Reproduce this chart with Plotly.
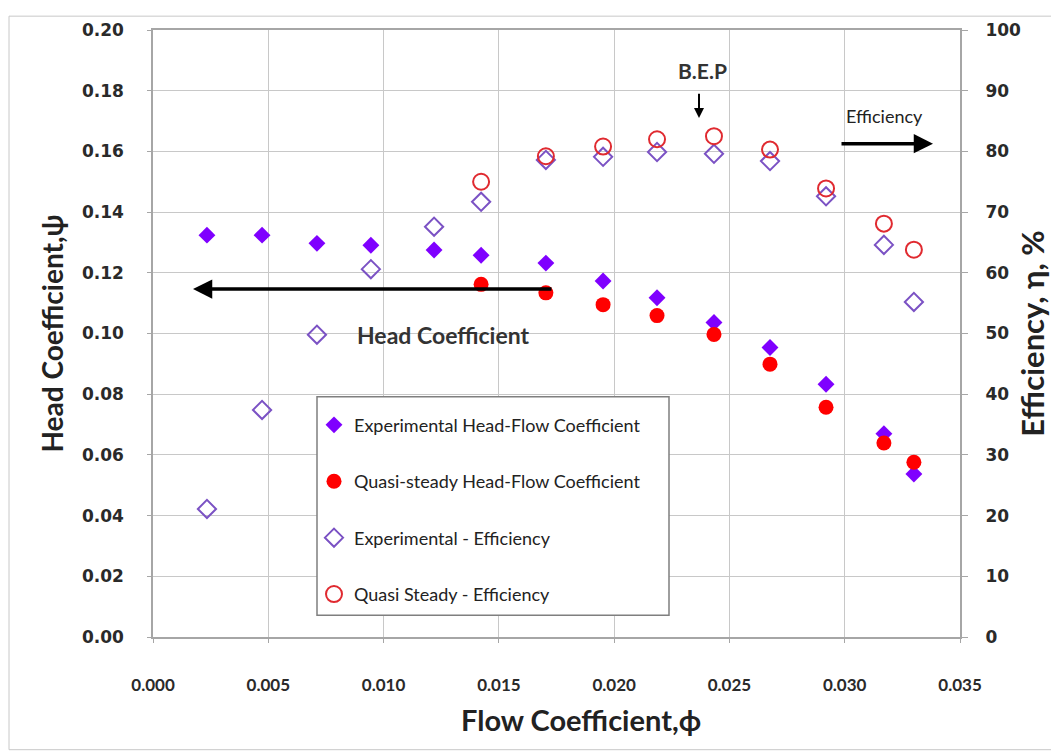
import plotly.graph_objects as go

# ---- data ----
phi = [0.00234, 0.00473, 0.00711, 0.00945, 0.01219, 0.01423, 0.01704,
       0.01952, 0.02186, 0.02433, 0.02676, 0.02919, 0.0317, 0.0330]
psi_exp = [0.1324, 0.1324, 0.1297, 0.1291, 0.1275, 0.1258, 0.1232,
           0.1173, 0.1118, 0.1036, 0.0954, 0.0833, 0.0670, 0.0537]
eff_exp = [21.1, 37.4, 49.8, 60.6, 67.6, 71.7, 78.6,
           79.1, 79.9, 79.6, 78.4, 72.6, 64.6, 55.2]

phi_qs = [0.01423, 0.01704, 0.01952, 0.02186, 0.02433, 0.02676, 0.02919, 0.0317, 0.0330]
psi_qs = [0.1162, 0.1134, 0.1095, 0.1059, 0.0997, 0.0899, 0.0757, 0.0639, 0.0576]
eff_qs = [75.0, 79.2, 80.8, 82.0, 82.5, 80.3, 73.9, 68.1, 63.8]

x_ticks = [0.000, 0.005, 0.010, 0.015, 0.020, 0.025, 0.030, 0.035]
names = ["Experimental Head-Flow Coefficient",
         "Quasi-steady Head-Flow Coefficient",
         "Experimental - Efficiency",
         "Quasi Steady - Efficiency"]

# screen geometry of the plot area (page has an 8px body margin)
OFF = 8
W, H = 1059 - OFF, 755 - OFF
L, R, T, B = 153, 960, 23, 637

fig = go.Figure()
fig.add_trace(go.Scatter(x=phi, y=psi_exp, mode="markers", name=names[0],
                         legendgroup="a",
                         marker=dict(symbol="diamond", size=13, color="#7f00ff")))
fig.add_trace(go.Scatter(x=phi_qs, y=psi_qs, mode="markers", name=names[1],
                         legendgroup="b",
                         marker=dict(symbol="circle", size=15, color="#ff0000")))
fig.add_trace(go.Scatter(x=phi, y=eff_exp, mode="markers", name=names[2],
                         legendgroup="c", yaxis="y2",
                         marker=dict(symbol="diamond-open", size=14,
                                     color="#7b52c4", line=dict(width=2))))
fig.add_trace(go.Scatter(x=phi_qs, y=eff_qs, mode="markers", name=names[3],
                         legendgroup="d", yaxis="y2",
                         marker=dict(symbol="circle-open", size=16,
                                     color="#e02a30", line=dict(width=2))))

def px2x(px):
    return (px - L) / (R - L) * 0.035

def py2y(py):
    return (B - py) / (B - T) * 0.2

def px2p(px):
    return (px - L) / (R - L)

def py2p(py):
    return (B - py) / (B - T)

titlefont = dict(family="Lato", size=28, color="#222222", weight="bold")

ann = []
# Head coefficient arrow (pointing left)
ann.append(dict(x=px2x(193), y=py2y(285), ax=px2x(553), ay=py2y(285),
                xref="x", yref="y", axref="x", ayref="y", text="",
                showarrow=True, arrowhead=2, arrowsize=1.1, arrowwidth=3.5,
                arrowcolor="black"))
ann.append(dict(x=px2x(355), y=py2y(332), xref="x", yref="y",
                text="<b>Head Coefficient</b>", showarrow=False,
                xanchor="left", yanchor="middle",
                font=dict(family="Lato", size=23, color="#333333")))
# Efficiency arrow (pointing right)
ann.append(dict(x=px2x(933), y=py2y(138), ax=px2x(840), ay=py2y(138),
                xref="x", yref="y", axref="x", ayref="y", text="",
                showarrow=True, arrowhead=2, arrowsize=1.1, arrowwidth=3.5,
                arrowcolor="black"))
ann.append(dict(x=px2x(884), y=py2y(110), xref="x", yref="y",
                text="Efficiency", showarrow=False,
                xanchor="center", yanchor="middle",
                font=dict(family="Lato", size=18, color="#222222")))
# B.E.P
ann.append(dict(x=px2x(702), y=py2y(64), xref="x", yref="y",
                text="<b>B.E.P</b>", showarrow=False,
                xanchor="center", yanchor="middle",
                font=dict(family="Lato", size=21, color="#333333")))
ann.append(dict(x=px2x(699), y=py2y(112), ax=px2x(699), ay=py2y(86),
                xref="x", yref="y", axref="x", ayref="y", text="",
                showarrow=True, arrowhead=2, arrowsize=1, arrowwidth=2,
                arrowcolor="black"))
# x-axis title (placed like the reference, slightly right of centre)
ann.append(dict(x=px2p(581), y=py2p(720), xref="paper", yref="paper",
                text="Flow Coefficient,ϕ", showarrow=False,
                xanchor="center", yanchor="middle",
                font=dict(family="Lato", size=29, color="#222222", weight="bold")))

tickfont_y = dict(family="DejaVu Sans", size=17, color="#2a2a2a", weight="bold")

fig.update_layout(
    width=W, height=H,
    margin=dict(l=L - OFF, r=W - (R - OFF), t=T - OFF, b=H - (B - OFF)),
    paper_bgcolor="white", plot_bgcolor="white",
    showlegend=True,
    legend=dict(x=px2p(314), y=py2p(404),
                xanchor="left", yanchor="top",
                bgcolor="rgba(0,0,0,0)", borderwidth=0,
                font=dict(family="Lato", size=18, color="#222222"),
                tracegroupgap=30, itemwidth=30),
    xaxis=dict(range=[0, 0.035], tickvals=x_ticks, tickformat=".3f",
               showgrid=True, gridcolor="#c8c8c8", gridwidth=1,
               showline=True, linecolor="#a6a6a6", linewidth=1.5, mirror=True,
               ticks="outside", ticklen=4, tickcolor="#a6a6a6",
               ticklabelstandoff=28, zeroline=False,
               tickfont=dict(family="Lato", size=17, color="#2a2a2a", weight="bold")),
    yaxis=dict(range=[0, 0.2], dtick=0.02, tickformat=".2f",
               showgrid=True, gridcolor="#c8c8c8", gridwidth=1,
               showline=True, linecolor="#a6a6a6", linewidth=1.5, mirror=True,
               ticks="outside", ticklen=4, tickcolor="#a6a6a6",
               ticklabelstandoff=20, zeroline=False, tickfont=tickfont_y,
               title=dict(text="Head Coefficient,ψ", font=titlefont,
                          standoff=10)),
    yaxis2=dict(range=[0, 100], dtick=10, overlaying="y", side="right",
                showgrid=False, zeroline=False,
                ticks="outside", ticklen=7, tickcolor="#a6a6a6",
                ticklabelstandoff=14, tickfont=tickfont_y,
                title=dict(text="Efficiency, η, %",
                           font=dict(family="Lato", size=31, color="#222222",
                                     weight="bold"),
                           standoff=2)),
    annotations=ann,
    shapes=[
        dict(type="rect", xref="paper", yref="paper",
             x0=px2p(9), x1=px2p(1053), y0=py2p(751), y1=py2p(9),
             line=dict(color="#c8c8c8", width=1), layer="below"),
        dict(type="rect", xref="paper", yref="paper",
             x0=px2p(317), x1=px2p(669), y0=py2p(615), y1=py2p(394),
             line=dict(color="#7f7f7f", width=1.5), fillcolor="white",
             layer="above"),
    ],
)

fig.write_html("out.html")
